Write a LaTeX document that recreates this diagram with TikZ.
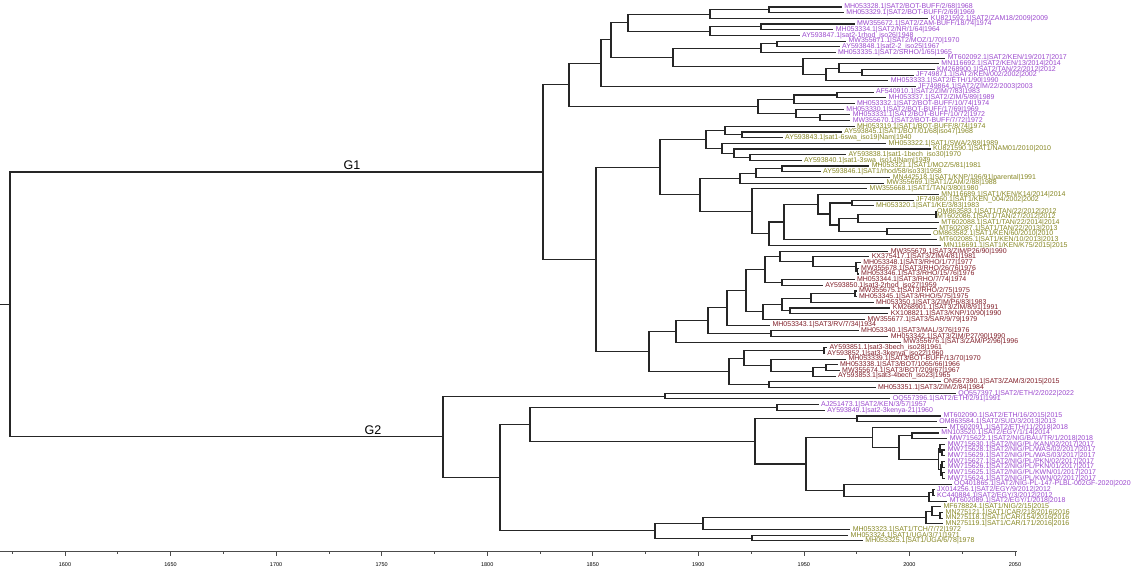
\documentclass[tikz,border=0pt]{standalone}
\usepackage{fontspec}
\setmainfont{Liberation Sans}
\newfontfamily\leaffont{Liberation Sans}
\usetikzlibrary{calc}
\definecolor{sattwo}{RGB}{155,72,205}
\definecolor{satone}{RGB}{134,134,34}
\definecolor{satthree}{RGB}{128,30,40}

% leaf: name, row, year, colour, text
\newcommand\leaf[5]{\node[leaf,text=#4] (#1) at ({65+(#3-1600)*2.111},{7+(#2-1)*5.68}) {#5};}
% clade: name, x, first child, second child
\newcommand\clade[4]{%
  \path let \p1=($(#3)!0.5!(#4)$) in (#2pt,\y1) coordinate (#1);
  \draw[branch] (#1) |- (#3);
  \draw[branch] (#1) |- (#4);}

\begin{document}
\begin{tikzpicture}[x=1pt,y=-1pt,
    leaf/.style={anchor=west,inner xsep=2.5pt,inner ysep=0pt,outer sep=0pt,
      font=\leaffont\fontsize{7}{7}\selectfont},
    branch/.style={draw=black!85,line width=1.1pt},
    grp/.style={anchor=south,inner sep=2pt,font=\leaffont\fontsize{12.5}{13}\selectfont},
    scaleline/.style={draw=black!70,line width=0.6pt},
    yrlab/.style={anchor=north,inner sep=1pt,font=\fontsize{5.5}{6}\selectfont}]
\useasboundingbox (0,0) rectangle (1148,572);

\leaf{t1}{1}{1968}{sattwo}{MH053328.1|SAT2/BOT-BUFF/2/68|1968}
\leaf{t2}{2}{1969}{sattwo}{MH053329.1|SAT2/BOT-BUFF/2/69|1969}
\leaf{t3}{3}{2009}{sattwo}{KU821592.1|SAT2/ZAM18/2009|2009}
\leaf{t4}{4}{1974}{sattwo}{MW355672.1|SAT2/ZAM-BUFF/18/74|1974}
\leaf{t5}{5}{1964}{sattwo}{MH053334.1|SAT2/NR/1/64|1964}
\leaf{t6}{6}{1948}{sattwo}{AY593847.1|sat2-1rhod\_iso26|1948}
\leaf{t7}{7}{1970}{sattwo}{MW355671.1|SAT2/MOZ/1/70|1970}
\leaf{t8}{8}{1967}{sattwo}{AY593848.1|sat2-2\_iso25|1967}
\leaf{t9}{9}{1965}{sattwo}{MH053335.1|SAT2/SRHO/1/65|1965}
\leaf{t10}{10}{2017}{sattwo}{MT602092.1|SAT2/KEN/19/2017|2017}
\leaf{t11}{11}{2014}{sattwo}{MN116692.1|SAT2/KEN/13/2014|2014}
\leaf{t12}{12}{2012}{sattwo}{KM268900.1|SAT2/TAN/22/2012|2012}
\leaf{t13}{13}{2002}{sattwo}{JF749871.1|SAT2/KEN/002/2002|2002}
\leaf{t14}{14}{1990}{sattwo}{MH053333.1|SAT2/ETH/1/90|1990}
\leaf{t15}{15}{2003}{sattwo}{JF749864.1|SAT2/ZIM/22/2003|2003}
\leaf{t16}{16}{1983}{sattwo}{AF540910.1|SAT2/ZIM/7/83|1983}
\leaf{t17}{17}{1989}{sattwo}{MH053337.1|SAT2/ZIM/5/89|1989}
\leaf{t18}{18}{1974}{sattwo}{MH053332.1|SAT2/BOT-BUFF/10/74|1974}
\leaf{t19}{19}{1969}{sattwo}{MH053330.1|SAT2/BOT-BUFF/17/69|1969}
\leaf{t20}{20}{1972}{sattwo}{MH053331.1|SAT2/BOT-BUFF/10/72|1972}
\leaf{t21}{21}{1972}{sattwo}{MW355670.1|SAT2/BOT-BUFF/7/72|1972}
\leaf{t22}{22}{1974}{satone}{MH053319.1|SAT1/BOT-BUFF/8/74|1974}
\leaf{t23}{23}{1968}{satone}{AY593845.1|SAT1/BOT/01/68|iso47|1968}
\leaf{t24}{24}{1940}{satone}{AY593843.1|sat1-6swa\_iso19|Nam|1940}
\leaf{t25}{25}{1989}{satone}{MH053322.1|SAT1/SWA/2/89|1989}
\leaf{t26}{26}{2010}{satone}{KU821590.1|SAT1/NAM01/2010|2010}
\leaf{t27}{27}{1970}{satone}{AY593838.1|sat1-1bech\_iso30|1970}
\leaf{t28}{28}{1949}{satone}{AY593840.1|sat1-3swa\_iso14|Nam|1949}
\leaf{t29}{29}{1981}{satone}{MH053321.1|SAT1/MOZ/5/81|1981}
\leaf{t30}{30}{1958}{satone}{AY593846.1|SAT1/rhod/58/iso33|1958}
\leaf{t31}{31}{1991}{satone}{MN442518.1|SAT1/KNP/196/91|parental|1991}
\leaf{t32}{32}{1988}{satone}{MW355669.1|SAT1/ZAM/2/88|1988}
\leaf{t33}{33}{1980}{satone}{MW355668.1|SAT1/TAN/3/80|1980}
\leaf{t34}{34}{2014}{satone}{MN116689.1|SAT1/KEN/K14/2014|2014}
\leaf{t35}{35}{2002}{satone}{JF749860.1|SAT1/KEN\_004/2002|2002}
\leaf{t36}{36}{1983}{satone}{MH053320.1|SAT1/KE/3/83|1983}
\leaf{t37}{37}{2012}{satone}{OM863583.1|SAT1/TAN/22/2012|2012}
\leaf{t38}{38}{2012}{satone}{MT602086.1|SAT1/TAN/27/2012|2012}
\leaf{t39}{39}{2014}{satone}{MT602088.1|SAT1/TAN/22/2014|2014}
\leaf{t40}{40}{2013}{satone}{MT602087.1|SAT1/TAN/22/2013|2013}
\leaf{t41}{41}{2010}{satone}{OM863582.1|SAT1/KEN/60/2010|2010}
\leaf{t42}{42}{2013}{satone}{MT602085.1|SAT1/KEN/10/2013|2013}
\leaf{t43}{43}{2015}{satone}{MN116691.1|SAT1/KEN/K75/2015|2015}
\leaf{t44}{44}{1990}{satthree}{MW355679.1|SAT3/ZIM/P26/90|1990}
\leaf{t45}{45}{1981}{satthree}{KX375417.1|SAT3/ZIM/4/81|1981}
\leaf{t46}{46}{1977}{satthree}{MH053348.1|SAT3/RHO/1/77|1977}
\leaf{t47}{47}{1976}{satthree}{MW355678.1|SAT3/RHO/26/76|1976}
\leaf{t48}{48}{1976}{satthree}{MH053346.1|SAT3/RHO/15/76|1976}
\leaf{t49}{49}{1974}{satthree}{MH053344.1|SAT3/RHO/7/74|1974}
\leaf{t50}{50}{1959}{satthree}{AY593850.1|sat3-2rhod\_iso27|1959}
\leaf{t51}{51}{1975}{satthree}{MW355675.1|SAT3/RHO/2/75|1975}
\leaf{t52}{52}{1975}{satthree}{MH053345.1|SAT3/RHO/5/75|1975}
\leaf{t53}{53}{1983}{satthree}{MH053350.1|SAT3/ZIM/P6/83|1983}
\leaf{t54}{54}{1991}{satthree}{KM268901.1|SAT3/ZIM/8/91|1991}
\leaf{t55}{55}{1990}{satthree}{KX108821.1|SAT3/KNP/10/90|1990}
\leaf{t56}{56}{1979}{satthree}{MW355677.1|SAT3/SAR/9/79|1979}
\leaf{t57}{57}{1934}{satthree}{MH053343.1|SAT3/RV/7/34|1934}
\leaf{t58}{58}{1976}{satthree}{MH053340.1|SAT3/MAL/3/76|1976}
\leaf{t59}{59}{1990}{satthree}{MH053342.1|SAT3/ZIM/P27/90|1990}
\leaf{t60}{60}{1996}{satthree}{MW355676.1|SAT3/ZAM/P2/96|1996}
\leaf{t61}{61}{1961}{satthree}{AY593851.1|sat3-3bech\_iso28|1961}
\leaf{t62}{62}{1960}{satthree}{AY593852.1|sat3-3kenya\_iso22|1960}
\leaf{t63}{63}{1970}{satthree}{MH053339.1|SAT3/BOT-BUFF/13/70|1970}
\leaf{t64}{64}{1966}{satthree}{MH053338.1|SAT3/BOT/1065/66|1966}
\leaf{t65}{65}{1967}{satthree}{MW355674.1|SAT3/BOT/209/67|1967}
\leaf{t66}{66}{1965}{satthree}{AY593853.1|sat3-4bech\_iso23|1965}
\leaf{t67}{67}{2015}{satthree}{ON567390.1|SAT3/ZAM/3/2015|2015}
\leaf{t68}{68}{1984}{satthree}{MH053351.1|SAT3/ZIM/2/84|1984}
\leaf{t69}{69}{2022}{sattwo}{OQ557397.1|SAT2/ETH/2/2022|2022}
\leaf{t70}{70}{1991}{sattwo}{OQ557396.1|SAT2/ETH/2/91|1991}
\leaf{t71}{71}{1957}{sattwo}{AJ251473.1|SAT2/KEN/3/57|1957}
\leaf{t72}{72}{1960}{sattwo}{AY593849.1|sat2-3kenya-21|1960}
\leaf{t73}{73}{2015}{sattwo}{MT602090.1|SAT2/ETH/16/2015|2015}
\leaf{t74}{74}{2013}{sattwo}{OM863584.1|SAT2/SUD/3/2013|2013}
\leaf{t75}{75}{2018}{sattwo}{MT602091.1|SAT2/ETH/11/2018|2018}
\leaf{t76}{76}{2014}{sattwo}{MN103520.1|SAT2/EGY/1/14|2014}
\leaf{t77}{77}{2018}{sattwo}{MW715622.1|SAT2/NIG/BAU/TR/1/2018|2018}
\leaf{t78}{78}{2017}{sattwo}{MW715630.1|SAT2/NIG/PL/KAN/02/2017|2017}
\leaf{t79}{79}{2017}{sattwo}{MW715628.1|SAT2/NIG/PL/WAS/02/2017|2017}
\leaf{t80}{80}{2017}{sattwo}{MW715629.1|SAT2/NIG/PL/WAS/03/2017|2017}
\leaf{t81}{81}{2017}{sattwo}{MW715627.1|SAT2/NIG/PL/PKN/02/2017|2017}
\leaf{t82}{82}{2017}{sattwo}{MW715626.1|SAT2/NIG/PL/PKN/01/2017|2017}
\leaf{t83}{83}{2017}{sattwo}{MW715625.1|SAT2/NIG/PL/KWN/01/2017|2017}
\leaf{t84}{84}{2017}{sattwo}{MW715624.1|SAT2/NIG/PL/KWN/02/2017|2017}
\leaf{t85}{85}{2020}{sattwo}{OQ401865.1|SAT2/NIG-PL-147-PLBL-002GF-2020|2020}
\leaf{t86}{86}{2012}{sattwo}{JX014256.1|SAT2/EGY/9/2012|2012}
\leaf{t87}{87}{2012}{sattwo}{KC440884.1|SAT2/EGY/3/2012|2012}
\leaf{t88}{88}{2018}{sattwo}{MT602089.1|SAT2/EGY/1/2018|2018}
\leaf{t89}{89}{2015}{satone}{MF678824.1|SAT1/NIG/2/15|2015}
\leaf{t90}{90}{2016}{satone}{MN275121.1|SAT1/CAR/218/2016|2016}
\leaf{t91}{91}{2016}{satone}{MN275118.1|SAT1/CAR/154/2016|2016}
\leaf{t92}{92}{2016}{satone}{MN275119.1|SAT1/CAR/171/2016|2016}
\leaf{t93}{93}{1972}{satone}{MH053323.1|SAT1/TCH/7/72|1972}
\leaf{t94}{94}{1971}{satone}{MH053324.1|SAT1/UGA/3/71|1971}
\leaf{t95}{95}{1978}{satone}{MH053325.1|SAT1/UGA/6/78|1978}

% SAT2 in G1
\clade{a1}{769}{t1}{t2}
\clade{a2}{710}{a1}{t3}
\clade{b1}{761}{t4}{t5}
\clade{b2}{710}{b1}{t6}
\clade{c1}{628}{a2}{b2}
\clade{d0}{777}{t7}{t8}
\clade{d1}{761}{d0}{t9}
\clade{e1}{862}{t12}{t13}
\clade{e2}{839}{t11}{e1}
\clade{e3}{826}{e2}{t14}
\clade{e4}{803}{t10}{e3}
\clade{f1}{673}{d1}{e4}
\clade{g1}{611}{c1}{f1}
\clade{h1}{601}{g1}{t15}
\clade{j1}{837}{t16}{t17}
\clade{k1}{794}{j1}{t18}
\clade{l0}{820}{t20}{t21}
\clade{l1}{796}{t19}{l0}
\clade{i1}{758}{k1}{l1}
\clade{stwo}{569}{h1}{i1}
% SAT1 in G1
\clade{p1}{742}{t23}{t24}
\clade{p2}{725}{t22}{p1}
\clade{q1}{750}{t27}{t28}
\clade{q2}{734}{t26}{q1}
\clade{q3}{722}{t25}{q2}
\clade{p3}{706}{p2}{q3}
\clade{r1}{782}{t29}{t30}
\clade{r2}{756}{r1}{t31}
\clade{r3}{740}{r2}{t32}
\clade{s37}{936}{t37}{t38}
\clade{s39}{858}{s37}{t39}
\clade{s40}{887}{t40}{t41}
\clade{s41}{839}{s39}{s40}
\clade{s42}{852}{t35}{t36}
\clade{s43}{830}{s42}{s41}
\clade{s44}{818}{t34}{s43}
\clade{s45}{784}{s44}{t42}
\clade{s46}{769}{s45}{t43}
\clade{s47}{752}{t33}{s46}
\clade{s48}{700}{r3}{s47}
\clade{sone}{660}{p3}{s48}
% SAT3 in G1
\clade{u1}{857.5}{t47}{t48}
\clade{u2}{856}{t46}{u1}
\clade{u3}{813}{t45}{u2}
\clade{u4}{780}{t44}{u3}
\clade{u5}{782}{t49}{t50}
\clade{u6}{765}{u4}{u5}
\clade{v1}{855}{t51}{t52}
\clade{v2}{811}{v1}{t53}
\clade{v3}{790}{t54}{t55}
\clade{v4}{782}{v2}{v3}
\clade{v5}{763}{v4}{t56}
\clade{w1}{746}{u6}{v5}
\clade{w2}{727}{w1}{t57}
\clade{w3}{771}{t58}{t59}
\clade{w4}{708}{w2}{w3}
\clade{w5}{676}{w4}{t60}
\clade{x1}{824}{t61}{t62}
\clade{x2}{826}{t64}{t65}
\clade{x3}{813}{x2}{t66}
\clade{x4}{771}{t63}{x3}
\clade{x5}{744}{x1}{x4}
\clade{x6}{769}{t67}{t68}
\clade{x7}{729}{x5}{x6}
\clade{sthree}{649}{w5}{x7}
\clade{zz}{596}{sone}{sthree}
\clade{gone}{543}{stwo}{zz}
% G2
\clade{y1}{665}{t69}{t70}
\clade{y2}{777}{t71}{t72}
\clade{y3}{857}{t73}{t74}
\clade{y4}{912}{t76}{t77}
\clade{n1}{942}{t79}{t80}
\clade{n2}{940}{t78}{n1}
\clade{n3}{942}{t81}{t82}
\clade{n4}{942.5}{t83}{t84}
\clade{n5}{941}{n3}{n4}
\clade{n6}{938.5}{n2}{n5}
\clade{y5}{899}{y4}{n6}
\clade{y6}{872.5}{t75}{y5}
\clade{z1}{933}{t86}{t87}
\clade{z2}{929}{z1}{t88}
\clade{z3}{844}{t85}{z2}
\clade{z4}{806}{y6}{z3}
\clade{z5}{755}{y3}{z4}
\clade{z6}{530}{y2}{z5}
\clade{m1}{940}{t90}{t91}
\clade{m2}{932}{t89}{m1}
\clade{m3}{926}{m2}{t92}
\clade{m4}{752}{t94}{t95}
\clade{m5}{703}{m3}{t93}
\clade{m6}{655}{m5}{m4}
\clade{z7}{500}{z6}{m6}
\clade{gtwo}{443}{y1}{z7}
\clade{root}{10}{gone}{gtwo}
\path let \p1=(root) in (0pt,\y1) coordinate (stub);
\draw[branch] (stub) -- (root);

\path let \p1=(gone) in (352pt,\y1) node[grp] (lgone) {G1};
\path let \p1=(gtwo) in (373pt,\y1) node[grp] (lgtwo) {G2};

% time scale
\coordinate (axl) at (0,551);
\coordinate (axr) at (1017,551);
\draw[scaleline] (axl) -- (axr);
\foreach \yr in {1575,1625,...,2025}
  \draw[scaleline] ({65+(\yr-1600)*2.111},551) -- ++(0,3);
\foreach \yr in {1600,1650,...,2050}{
  \draw[scaleline] ({65+(\yr-1600)*2.111},551) -- ++(0,5);
  \node[yrlab] (yl\yr) at ({65+(\yr-1600)*2.111},561) {\yr};}
\end{tikzpicture}
\end{document}
